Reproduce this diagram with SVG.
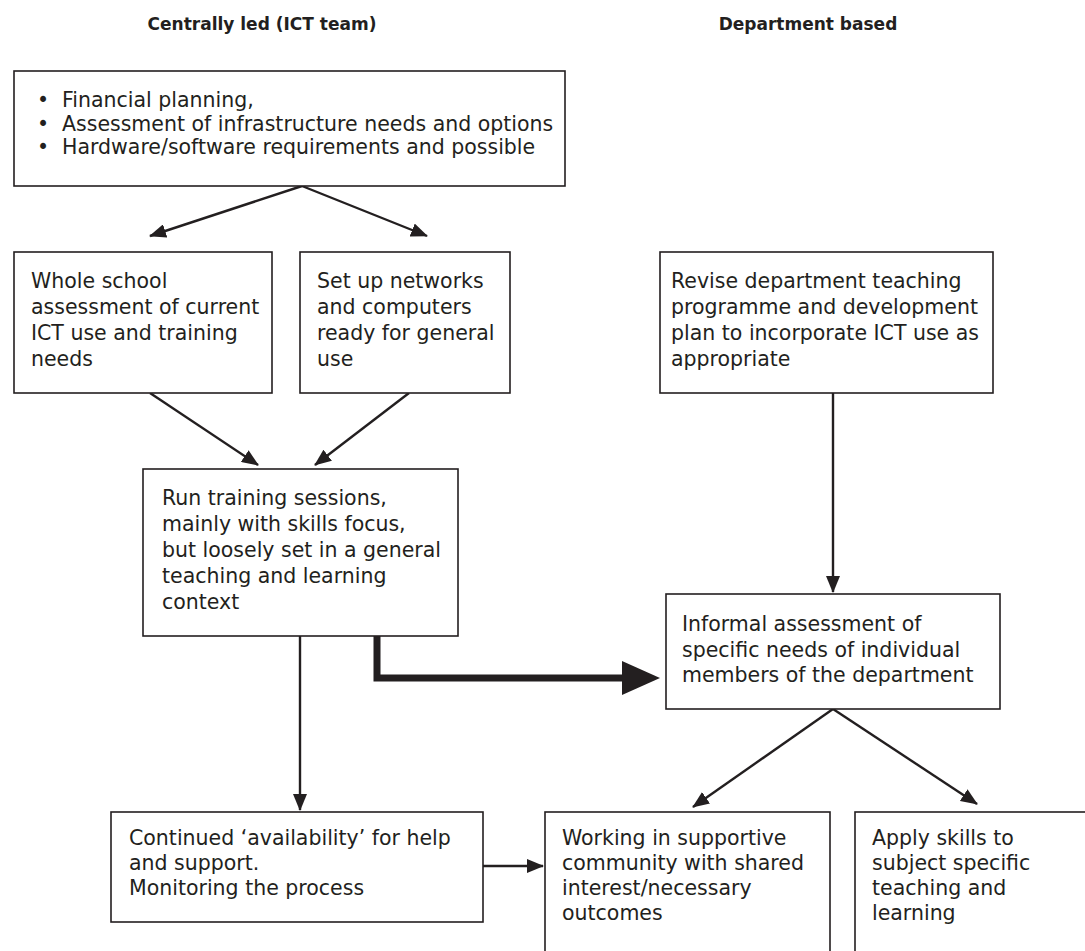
<svg xmlns="http://www.w3.org/2000/svg" width="1085" height="951" viewBox="0 0 1085 951">
<defs>
<marker id="ah" viewBox="0 0 17 14" refX="16" refY="7" markerWidth="17" markerHeight="14" markerUnits="userSpaceOnUse" orient="auto">
<path d="M0,0 L17,7 L0,14 Z" fill="#231f20"/>
</marker>
</defs>
<style>
.box{fill:#fff;stroke:#231f20;stroke-width:1.6}
.t{font-family:"DejaVu Sans","Open Sans",sans-serif;font-size:20.5px;fill:#231f20}
.h{font-family:"DejaVu Sans","Open Sans",sans-serif;font-size:17px;font-weight:bold;fill:#231f20;text-anchor:middle}
.c{fill:none;stroke:#231f20;stroke-width:2.4}
</style>
<rect width="1085" height="951" fill="#fff"/>
<g id="headers">
<text class="h" x="262" y="30">Centrally led (ICT team)</text>
<text class="h" x="808" y="30">Department based</text>
</g>
<g id="connectors">
<line class="c" x1="302" y1="186" x2="150" y2="236" marker-end="url(#ah)"/>
<line class="c" x1="302" y1="186" x2="427" y2="236" marker-end="url(#ah)"/>
<line class="c" x1="150" y1="393" x2="258" y2="465" marker-end="url(#ah)"/>
<line class="c" x1="409" y1="393" x2="315" y2="465" marker-end="url(#ah)"/>
<line class="c" x1="833" y1="393" x2="833" y2="592" marker-end="url(#ah)"/>
<line class="c" x1="300" y1="636" x2="300" y2="810" marker-end="url(#ah)"/>
<line class="c" x1="483" y1="866" x2="543" y2="866" marker-end="url(#ah)"/>
<line class="c" x1="833" y1="709" x2="693" y2="807" marker-end="url(#ah)"/>
<line class="c" x1="833" y1="709" x2="977" y2="804" marker-end="url(#ah)"/>
<path d="M377,636 V678 H625" fill="none" stroke="#231f20" stroke-width="7"/>
<path d="M622,661 L660,678 L622,695 Z" fill="#231f20"/>
</g>
<g id="top">
<rect class="box" x="14" y="71" width="551" height="115"/>
<text class="t"><tspan x="37" y="107">•</tspan><tspan x="62" y="107">Financial planning,</tspan><tspan x="37" y="130.5">•</tspan><tspan x="62" y="130.5">Assessment of infrastructure needs and options</tspan><tspan x="37" y="154">•</tspan><tspan x="62" y="154">Hardware/software requirements and possible</tspan></text>
</g>
<g id="whole">
<rect class="box" x="14" y="252" width="258" height="141"/>
<text class="t"><tspan x="31" y="288">Whole school</tspan><tspan x="31" y="314">assessment of current</tspan><tspan x="31" y="340">ICT use and training</tspan><tspan x="31" y="366">needs</tspan></text>
</g>
<g id="setup">
<rect class="box" x="300" y="252" width="210" height="141"/>
<text class="t"><tspan x="317" y="288">Set up networks</tspan><tspan x="317" y="314">and computers</tspan><tspan x="317" y="340">ready for general</tspan><tspan x="317" y="366">use</tspan></text>
</g>
<g id="revise">
<rect class="box" x="660" y="252" width="333" height="141"/>
<text class="t"><tspan x="671" y="288">Revise department teaching</tspan><tspan x="671" y="314">programme and development</tspan><tspan x="671" y="340">plan to incorporate ICT use as</tspan><tspan x="671" y="366">appropriate</tspan></text>
</g>
<g id="run">
<rect class="box" x="143" y="469" width="315" height="167"/>
<text class="t"><tspan x="162" y="505">Run training sessions,</tspan><tspan x="162" y="531">mainly with skills focus,</tspan><tspan x="162" y="557">but loosely set in a general</tspan><tspan x="162" y="583">teaching and learning</tspan><tspan x="162" y="609">context</tspan></text>
</g>
<g id="informal">
<rect class="box" x="666" y="594" width="334" height="115"/>
<text class="t"><tspan x="682" y="631">Informal assessment of</tspan><tspan x="682" y="656.5">specific needs of individual</tspan><tspan x="682" y="682">members of the department</tspan></text>
</g>
<g id="continued">
<rect class="box" x="111" y="812" width="372" height="110"/>
<text class="t"><tspan x="129" y="845">Continued ‘availability’ for help</tspan><tspan x="129" y="870">and support.</tspan><tspan x="129" y="895">Monitoring the process</tspan></text>
</g>
<g id="working">
<rect class="box" x="545" y="812" width="285" height="160"/>
<text class="t"><tspan x="562" y="845">Working in supportive</tspan><tspan x="562" y="870">community with shared</tspan><tspan x="562" y="895">interest/necessary</tspan><tspan x="562" y="920">outcomes</tspan></text>
</g>
<g id="apply">
<rect class="box" x="855" y="812" width="250" height="160"/>
<text class="t"><tspan x="872" y="845">Apply skills to</tspan><tspan x="872" y="870">subject specific</tspan><tspan x="872" y="895">teaching and</tspan><tspan x="872" y="920">learning</tspan></text>
</g>
</svg>
